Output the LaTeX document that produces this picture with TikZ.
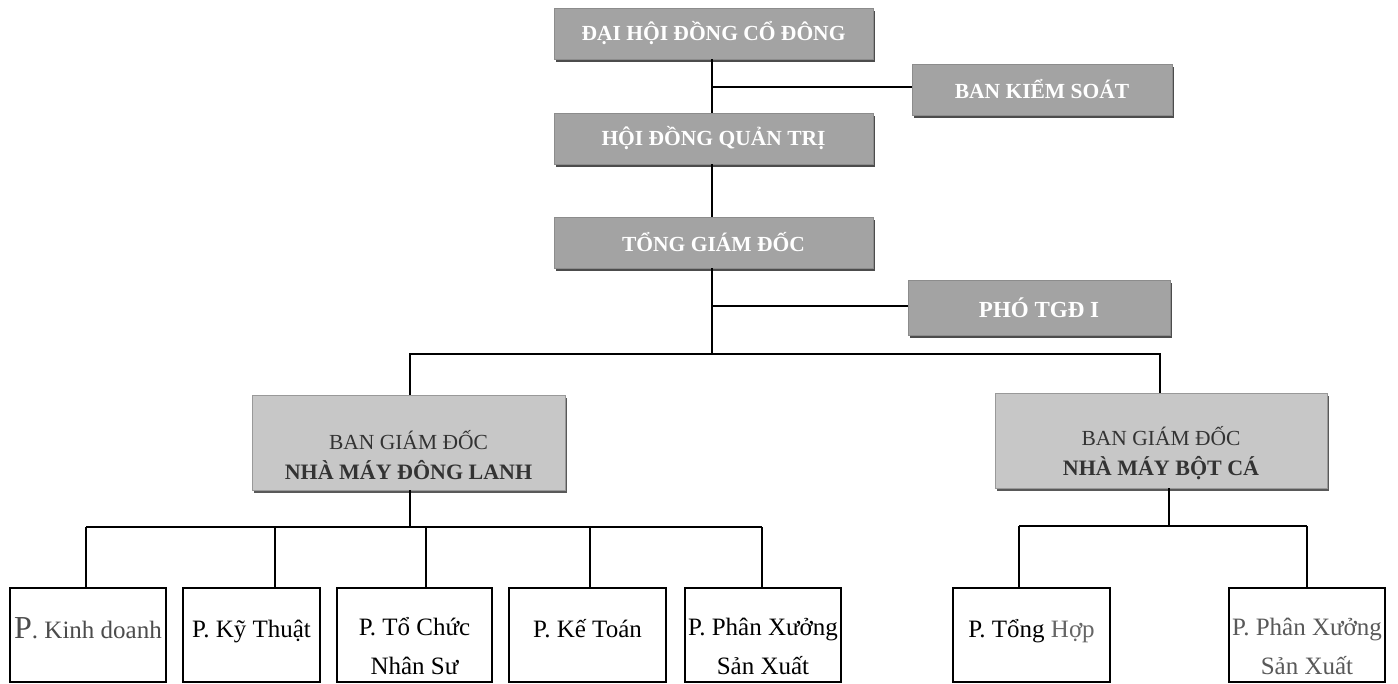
\documentclass[tikz,border=0pt]{standalone}
\usepackage{fontspec}
\setmainfont{Liberation Serif}
\usetikzlibrary{shadows}
\begin{document}
\begin{tikzpicture}[x=1pt,y=-1pt,
  conn/.style={line width=1.3pt,black},
  topbox/.style={draw=black!45,line width=0.6pt,fill=black!36,
    drop shadow={shadow xshift=2pt,shadow yshift=-3pt,fill=black!70,opacity=1},
    text=white,font=\fontsize{21.5}{24}\selectfont\bfseries,
    inner sep=0pt,anchor=center},
  midbox/.style={draw=black!40,line width=0.6pt,fill=black!22,
    drop shadow={shadow xshift=2pt,shadow yshift=-3pt,fill=black!65,opacity=1},
    inner sep=0pt,anchor=center,minimum width=#1,minimum height=95pt},
  midtext/.style={text=black!80,align=center,inner sep=0pt,anchor=center,
    font=\fontsize{21.5}{30}\selectfont},
  lowbox/.style={draw=black,line width=1.3pt,fill=white,inner sep=0pt,
    minimum width=#1,minimum height=94pt,anchor=center},
  lowtext/.style={font=\fontsize{25}{39}\selectfont,align=center,anchor=base,inner sep=0pt},
  lowtwo/.style={font=\fontsize{25}{39}\selectfont,align=center,anchor=center,inner sep=0pt}
]
\useasboundingbox (0,0) rectangle (1398,683);

% top level boxes
\node[topbox,minimum width=319pt,minimum height=51pt] (dh) at (713.5,33.5) {ĐẠI HỘI ĐỒNG CỔ ĐÔNG};
\node[topbox,minimum width=260pt,minimum height=51pt] (bks) at (1042,89.5) {BAN KIỂM SOÁT};
\node[topbox,minimum width=319pt,minimum height=51pt] (hd) at (713.5,138.5) {HỘI ĐỒNG QUẢN TRỊ};
\node[topbox,minimum width=319pt,minimum height=51pt] (tgd) at (713.5,242.5) {TỔNG GIÁM ĐỐC};
\node[topbox,minimum width=262pt,minimum height=55pt,font=\fontsize{23}{24}\selectfont\bfseries] (pho) at (1039,307.5) {PHÓ TGĐ I};

% factory management boxes
\node[midbox=313pt] (bg1) at (408.5,442.5) {};
\node[midbox=332pt] (bg2) at (1161,440.5) {};
\node[midtext] (bg1t) at (408.5,455) {BAN GIÁM ĐỐC\\\fontsize{22}{30}\selectfont\bfseries NHÀ MÁY ĐÔNG LANH};
\node[midtext] (bg2t) at (1161,453) {BAN GIÁM ĐỐC\\\fontsize{22}{30}\selectfont\bfseries NHÀ MÁY BỘT CÁ};

% department boxes
\node[lowbox=156pt] (p1) at (88,635) {};
\node[lowbox=137pt] (p2) at (251.5,635) {};
\node[lowbox=155pt] (p3) at (414.5,635) {};
\node[lowbox=157pt] (p4) at (587.5,635) {};
\node[lowbox=156pt] (p5) at (763,635) {};
\node[lowbox=157pt] (p6) at (1031.5,635) {};
\node[lowbox=156pt] (p7) at (1307,635) {};

\node[lowtext,text=black!70] (t1) at (88,638) {{\fontsize{32}{32}\selectfont P}. Kinh doanh};
\node[lowtext] (t2) at (251.5,637) {P. Kỹ Thuật};
\node[lowtwo] (t3) at (414.5,646) {P. Tổ Chức\\Nhân Sư};
\node[lowtext] (t4) at (587.5,637) {P. Kế Toán};
\node[lowtwo] (t5) at (763,646) {P. Phân Xưởng\\Sản Xuất};
\node[lowtext] (t6) at (1031.5,637) {P. Tổng \textcolor{black!60}{Hợp}};
\node[lowtwo,text=black!65] (t7) at (1307,646) {P. Phân Xưởng\\Sản Xuất};

% junction coordinates
\coordinate (jb) at (712,87);
\coordinate (jp) at (712,306);
\coordinate (jm) at (712,354);
\coordinate (jl) at (410,354);
\coordinate (jr) at (1160,354);
\coordinate (ja) at (410,527);
\coordinate (jc) at (1169,526);
\coordinate (a1) at (86,527);
\coordinate (a2) at (275,527);
\coordinate (a3) at (426,527);
\coordinate (a4) at (590,527);
\coordinate (a5) at (762,527);
\coordinate (c6) at (1019,526);
\coordinate (c7) at (1307,526);

% connectors
\draw[conn] (dh.south -| jb) -- (hd.north -| jb);
\draw[conn] (jb) -- (bks.west |- jb);
\draw[conn] (hd.south -| jb) -- (tgd.north -| jb);
\draw[conn] (tgd.south -| jb) -- (jm);
\draw[conn] (jp) -- (pho.west |- jp);
\draw[conn] (jl |- bg1.north) -- (jl) -- (jr) -- (jr |- bg2.north);
\draw[conn] (bg1.south -| ja) -- (ja);
\draw[conn] (a1) -- (a5);
\draw[conn] (a1) -- (a1 |- p1.north);
\draw[conn] (a2) -- (a2 |- p2.north);
\draw[conn] (a3) -- (a3 |- p3.north);
\draw[conn] (a4) -- (a4 |- p4.north);
\draw[conn] (a5) -- (a5 |- p5.north);
\draw[conn] (bg2.south -| jc) -- (jc);
\draw[conn] (c6) -- (c7);
\draw[conn] (c6) -- (c6 |- p6.north);
\draw[conn] (c7) -- (c7 |- p7.north);
\end{tikzpicture}
\end{document}
